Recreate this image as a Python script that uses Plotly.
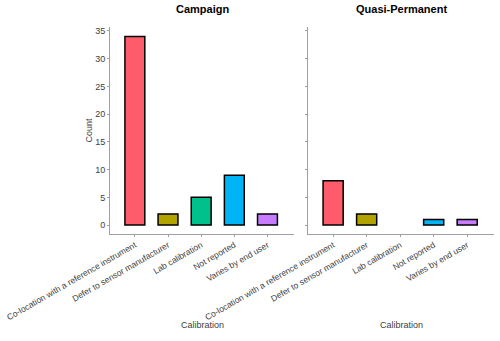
import plotly.graph_objects as go

categories = ["Co-location with a reference instrument", "Defer to sensor manufacturer",
              "Lab calibration", "Not reported", "Varies by end user"]
campaign = [34, 2, 5, 9, 2]
quasi_permanent = [8, 2, 0, 1, 1]
colors = ["#FF5C6B", "#B3A300", "#00C08B", "#00B4F6", "#C77CFF"]
y_ticks = [0, 5, 10, 15, 20, 25, 30, 35]

W, H = 500, 341
fig = go.Figure()
for vals, xa, ya in [(campaign, "x", "y"), (quasi_permanent, "x2", "y2")]:
    # empty categories get no outline
    lw = [1.5 if v > 0 else 0 for v in vals]
    fig.add_trace(go.Bar(x=categories, y=vals, width=0.6, xaxis=xa, yaxis=ya, showlegend=False,
                         marker=dict(color=colors, line=dict(color="black", width=lw))))

axis_font = dict(family="Liberation Sans, Arial", size=9, color="#404040")
xtick_font = dict(family="Liberation Sans, Arial", size=8.5, color="#404040")
xcommon = dict(type="category", range=[-0.75, 4.8], showgrid=False, showline=True, linecolor="#a0a0a0",
               ticks="outside", ticklen=2, tickcolor="#a0a0a0", tickangle=-30, tickfont=xtick_font,
               automargin=False)
ycommon = dict(range=[-1.6, 35.7], showgrid=False, showline=True, linecolor="#a0a0a0", zeroline=False,
               ticks="outside", ticklen=2, tickcolor="#a0a0a0", tickvals=y_ticks, tickfont=axis_font,
               automargin=False)

top, bottom = 27, 107
plot_h = H - top - bottom
title_font = dict(family="Liberation Sans, Arial", size=11, color="black")
fig.update_layout(
    width=W, height=H,
    margin=dict(l=0, r=0, t=top, b=bottom),
    plot_bgcolor="white", paper_bgcolor="white",
    xaxis=dict(domain=[110 / W, 294 / W], anchor="y", **xcommon),
    yaxis=dict(anchor="x", **ycommon),
    xaxis2=dict(domain=[308 / W, 494 / W], anchor="y2", **xcommon),
    yaxis2=dict(anchor="x2", showticklabels=False, **ycommon),
    annotations=[
        dict(text="<b>Campaign</b>", x=202 / W, y=1, yanchor="bottom", yshift=10, font=title_font),
        dict(text="<b>Quasi-Permanent</b>", x=401 / W, y=1, yanchor="bottom", yshift=10, font=title_font),
        dict(text="Count", x=88 / W, y=0.5, textangle=-90, font=axis_font),
        dict(text="Calibration", x=202 / W, y=-98 / plot_h, font=axis_font),
        dict(text="Calibration", x=401 / W, y=-98 / plot_h, font=axis_font),
    ],
)
fig.update_annotations(xref="paper", yref="paper", xanchor="center", showarrow=False)

# drop the browser's default body margin so the figure fills the window
fig.write_html("out.html", config={"displayModeBar": False},
               post_script="document.body.style.margin = '0px';")
